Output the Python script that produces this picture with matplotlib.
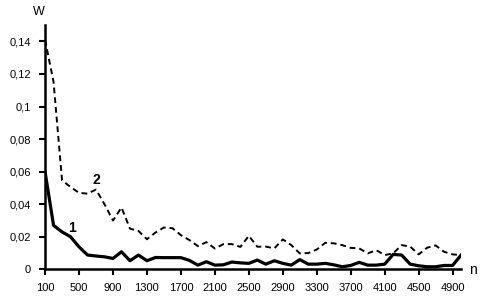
import numpy as np
import matplotlib
matplotlib.use('Agg')
import matplotlib.pyplot as plt

plt.rcParams['font.family'] = ['Liberation Sans', 'DejaVu Sans']

n = np.arange(100, 5001, 100)

# curve 1 (solid)
w1 = [0.0598, 0.027, 0.023, 0.020, 0.0138, 0.0088, 0.0082, 0.0077, 0.0067, 0.0108,
      0.0053, 0.0088, 0.0053, 0.0073, 0.0072, 0.0072, 0.0072, 0.0055, 0.0026, 0.0047,
      0.0026, 0.0028, 0.0045, 0.0040, 0.0037, 0.0057, 0.0032, 0.0053, 0.0037, 0.0026,
      0.0060, 0.0032, 0.0032, 0.0037, 0.0028, 0.0016, 0.0024, 0.0043, 0.0026, 0.0026,
      0.0032, 0.0092, 0.0088, 0.0032, 0.0022, 0.0016, 0.0016, 0.0024, 0.0024, 0.0088]

# curve 2 (dashed)
w2 = [0.141, 0.115, 0.0547, 0.0506, 0.047, 0.0465, 0.049, 0.040, 0.030, 0.038,
      0.025, 0.0236, 0.0185, 0.0226, 0.0257, 0.0253, 0.021, 0.018, 0.0143, 0.0167,
      0.0128, 0.0155, 0.0155, 0.0138, 0.0206, 0.0139, 0.0140, 0.0129, 0.0184, 0.0149,
      0.0098, 0.0100, 0.0122, 0.0163, 0.0160, 0.0149, 0.0132, 0.0129, 0.0098, 0.0118,
      0.0088, 0.0098, 0.0149, 0.0140, 0.0092, 0.0133, 0.0147, 0.0108, 0.0092, 0.0088]

xticks = np.arange(100, 5000, 400)
yticks = [0, 0.02, 0.04, 0.06, 0.08, 0.1, 0.12, 0.14]
ylabels = ['0', '0,02', '0,04', '0,06', '0,08', '0,1', '0,12', '0,14']

fig = plt.figure(figsize=(4.9, 3.03), dpi=100)
ax = fig.add_axes([0.092, 0.111, 0.849, 0.806])

ax.plot(n, w1, color='black', lw=2.3, solid_joinstyle='round')
ax.plot(n, w2, color='black', lw=1.4, linestyle=(0, (3, 2)))

ax.set_xlim(100, 5000)
ax.set_ylim(0, 0.15)
ax.set_xticks(xticks)
ax.set_xticklabels([str(v) for v in xticks])
ax.set_yticks(yticks)
ax.set_yticklabels(ylabels)

for s in ['top', 'right']:
    ax.spines[s].set_visible(False)
for s in ['left', 'bottom']:
    ax.spines[s].set_linewidth(1.8)
ax.tick_params(axis='both', labelsize=8, width=1.5, length=4, pad=6)

ax.text(415, 0.0257, '1', fontsize=10, fontweight='bold', ha='center', va='center')
ax.text(698, 0.0547, '2', fontsize=10, fontweight='bold', ha='center', va='center')
fig.text(39/490, 1 - 12/303, 'W', fontsize=9, ha='center', va='center')
fig.text(473/490, 1 - 270/303, 'n', fontsize=10, ha='center', va='center')

fig.savefig('out.png', dpi=100)
